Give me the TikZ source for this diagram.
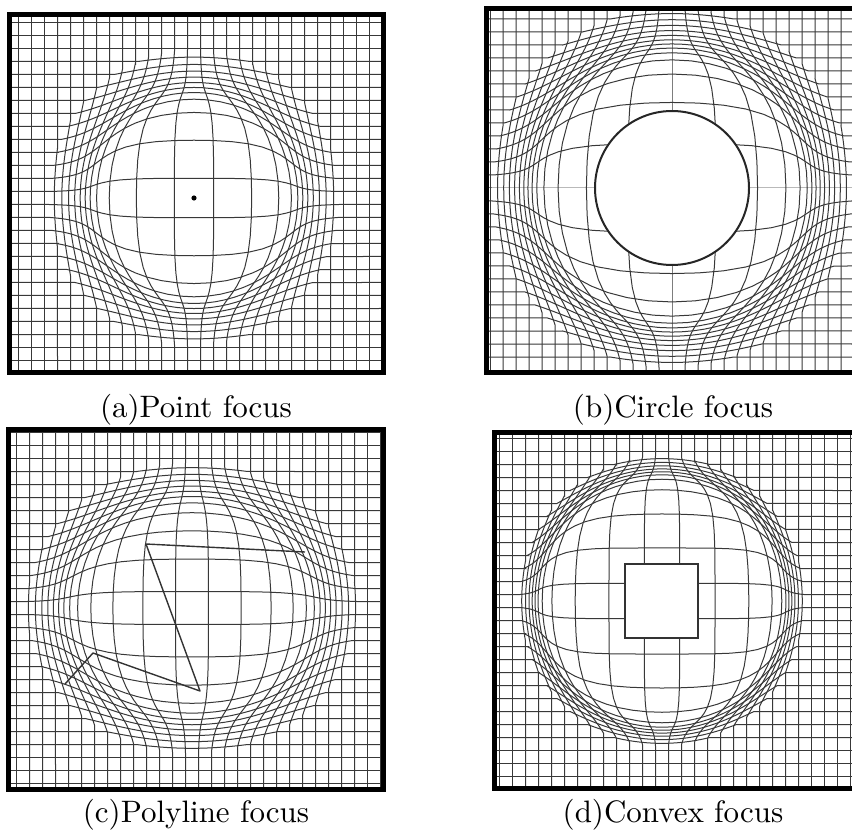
\documentclass[tikz,border=0pt]{standalone}
\tikzset{
  gridline/.style={black!78, line width=1pt},
  frameline/.style={draw=black, line width=5pt},
  focusline/.style={draw=black!85, line width=2pt},
  caption/.style={scale=3.1, anchor=base, inner sep=0pt},
  declare function={
    lsc(\qq)=\Lk/(1+(\Lk*\qq/\LA)^\Ln)^(1/\Ln)+\Lc*\qq;
  }
}
% #1 x0, #2 x1, #3 y0, #4 y1 : interior of the panel
\newcommand\LensGrid[4]{%
  \pgfmathsetmacro\Lc{1-\Lk/(1+(\Lk/\LA)^\Ln)^(1/\Ln)}%
  \foreach \j in {-16,...,16}{%
    % horizontal line
    \pgfmathsetmacro\Lv{\Lcy+\Lo+13*\j}%
    \ifdim\Lv pt>#3pt\relax\ifdim\Lv pt<#4pt\relax
      \pgfmathsetmacro\Ld{(\Lv-\Lcy)/\LRy}%
      \pgfmathsetmacro\Lh{\LRx*sqrt(max(1-\Ld*\Ld,0))}%
      \ifdim\Lh pt>0.5pt\relax
        \draw[gridline] (#1,\Lv) -- (\Lcx-\Lh,\Lv) -- plot[domain=\Lcx-\Lh:\Lcx+\Lh, samples=45, variable=\pv]
          ({\Lcx+(\pv-\Lcx)*lsc(min(veclen((\pv-\Lcx)/\LRx,\Ld),1))},
           {\Lcy+(\Lv-\Lcy)*lsc(min(veclen((\pv-\Lcx)/\LRx,\Ld),1))}) -- (#2,\Lv);
      \else
        \draw[gridline] (#1,\Lv) -- (#2,\Lv);
      \fi
    \fi\fi
    % vertical line
    \pgfmathsetmacro\Lu{\Lcx+\Lo+13*\j}%
    \ifdim\Lu pt>#1pt\relax\ifdim\Lu pt<#2pt\relax
      \pgfmathsetmacro\Ld{(\Lu-\Lcx)/\LRx}%
      \pgfmathsetmacro\Lh{\LRy*sqrt(max(1-\Ld*\Ld,0))}%
      \ifdim\Lh pt>0.5pt\relax
        \draw[gridline] (\Lu,#3) -- (\Lu,\Lcy-\Lh) -- plot[domain=\Lcy-\Lh:\Lcy+\Lh, samples=45, variable=\pv]
          ({\Lcx+(\Lu-\Lcx)*lsc(min(veclen(\Ld,(\pv-\Lcy)/\LRy),1))},
           {\Lcy+(\pv-\Lcy)*lsc(min(veclen(\Ld,(\pv-\Lcy)/\LRy),1))}) -- (\Lu,#4);
      \else
        \draw[gridline] (\Lu,#3) -- (\Lu,#4);
      \fi
    \fi\fi
  }%
}
\begin{document}
\begin{tikzpicture}[x=1pt, y=-1pt]
\useasboundingbox (0,0) rectangle (852,837);
\clip (0,0) rectangle (852,837);

% ---------- (a) point focus ----------
\begin{scope}
  \clip (9.5,15) rectangle (383,372);
  \def\Lcx{194}\def\Lcy{198}\def\LRx{145}\def\LRy{148}
  \def\Lk{3}\def\LA{0.68}\def\Ln{4}\def\Lo{6.5}
  \LensGrid{9.5}{383}{15}{372}
\end{scope}
\fill[black] (194,198) circle (2.6);
\draw[frameline] (9.5,15) rectangle (383,372);
\node[caption] (capa) at (196,417) {(a)Point focus};

% ---------- (b) circle focus ----------
\begin{scope}
  \clip (486,8.5) rectangle (859,372.5);
  \def\Lcx{672}\def\Lcy{188}\def\LRx{180}\def\LRy{180}
  \def\Lk{3.4}\def\LA{0.74}\def\Ln{4}\def\Lo{0}
  \LensGrid{486}{859}{8.5}{372.5}
\end{scope}
\fill[white] (672,188) circle (77);
\draw[focusline] (672,188) circle (77);
\draw[frameline] (486,8.5) rectangle (859,372.5);
\node[caption] (capb) at (673,417) {(b)Circle focus};

% ---------- (c) polyline focus ----------
\begin{scope}
  \clip (8.3,429) rectangle (383.5,789);
  \def\Lcx{192}\def\Lcy{608}\def\LRx{165}\def\LRy{145}
  \def\Lk{2.5}\def\LA{0.72}\def\Ln{4}\def\Lo{6.5}
  \LensGrid{8.3}{383.5}{429}{789}
\end{scope}
\draw[black!80, line width=1.4pt, line join=round] (305,552) -- (146,544) -- (200,691) -- (93,653) -- (65,684);
\draw[frameline] (8.3,429) rectangle (383.5,789);
\node[caption] (capc) at (196,822) {(c)Polyline focus};

% ---------- (d) convex focus ----------
\begin{scope}
  \clip (494,432) rectangle (867,788);
  \def\Lcx{662}\def\Lcy{601}\def\LRx{142}\def\LRy{145}
  \def\Lk{2.7}\def\LA{0.84}\def\Ln{6}\def\Lo{6.5}
  \LensGrid{494}{867}{432}{788}
\end{scope}
\fill[white] (625,564) rectangle (698,638);
\draw[focusline, draw=black!80, line width=2.6pt] (625,564) rectangle (698,638);
\draw[frameline] (494,432) rectangle (867,788);
\node[caption] (capd) at (673,822) {(d)Convex focus};
\end{tikzpicture}
\end{document}
